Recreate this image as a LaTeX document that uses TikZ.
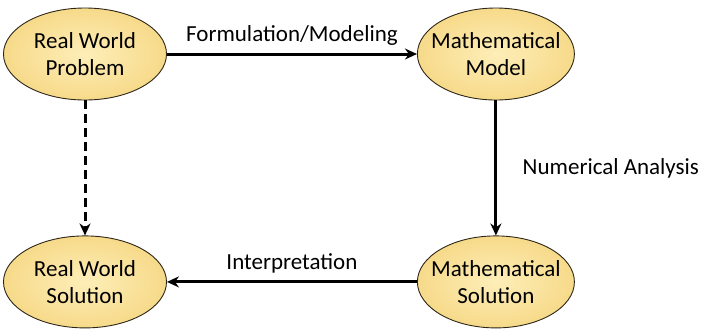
\documentclass[tikz,border=0pt]{standalone}
\usepackage{fontspec}
\setmainfont{Carlito}
\usetikzlibrary{arrows.meta,positioning,shapes.geometric}
\definecolor{sandlight}{RGB}{253,238,184}
\definecolor{sanddark}{RGB}{247,218,138}
\definecolor{rimbrown}{RGB}{45,38,25}

\begin{document}
\begin{tikzpicture}[
    x=1pt, y=1pt,
    node distance=135pt and 250pt,
    every node/.style={font=\fontsize{23}{27}\selectfont},
    stage/.style={ellipse, draw=rimbrown, line width=0.9pt, inner sep=-20pt,
      inner color=sandlight, outer color=sanddark,
      minimum width=163pt, minimum height=92pt, align=center},
    flow/.style={-{Stealth[length=12pt,width=11pt]}, line width=3pt}
  ]
    \useasboundingbox (0,0) rectangle (703,-330);
    \node[stage] (problem) at (85,-54) {Real World\\Problem};
    \node[stage, right=of problem, minimum width=157pt] (model) {Mathematical\\Model};
    \node[stage, below=of problem] (realsol) {Real World\\Solution};
    \node[stage, below=of model, minimum width=157pt] (mathsol) {Mathematical\\Solution};
    \draw[flow] (problem) -- node[above=4pt] (formlabel) {Formulation/Modeling} (model);
    \draw[flow] (model) -- node[right=22pt] (numlabel) {Numerical Analysis} (mathsol);
    \draw[flow] (mathsol) -- node[above=4pt] (interlabel) {Interpretation} (realsol);
    \draw[flow, dash pattern=on 9pt off 5pt] (problem) -- (realsol);
  \end{tikzpicture}
\end{document}
